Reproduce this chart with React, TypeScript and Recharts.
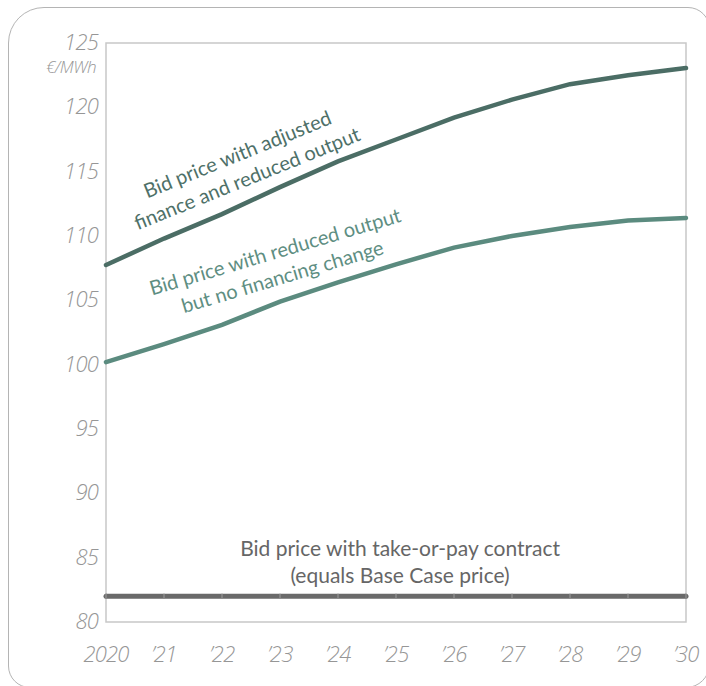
import React from 'react';
import { LineChart, Line, XAxis, YAxis, ReferenceArea, ReferenceDot } from 'recharts';

const years = [2020, 2021, 2022, 2023, 2024, 2025, 2026, 2027, 2028, 2029, 2030];
const yearLabels = ['2020', '\u201921', '\u201922', '\u201923', '\u201924', '\u201925', '\u201926', '\u201927', '\u201928', '\u201929', '\u201930'];
const adjustedFinance = [107.75, 109.8, 111.7, 113.8, 115.8, 117.5, 119.2, 120.6, 121.8, 122.5, 123.05];
const reducedOutput = [100.2, 101.6, 103.1, 104.9, 106.4, 107.8, 109.1, 110.0, 110.7, 111.2, 111.4];
const takeOrPay = [82, 82, 82, 82, 82, 82, 82, 82, 82, 82, 82];
const yTicks = [80, 85, 90, 95, 100, 105, 110, 115, 120, 125];

const data = years.map((y, i) => ({
  year: y,
  adjusted: adjustedFinance[i],
  reduced: reducedOutput[i],
  take: takeOrPay[i],
}));

const FONT = 'Lato, "Open Sans", sans-serif';
const TICK_FONT = '"Open Sans", Lato, sans-serif';
const tickTextStyle: React.CSSProperties = {
  fontFamily: TICK_FONT,
  fontStyle: 'italic',
  fontWeight: 300,
  fontSize: 22,
  letterSpacing: -0.8,
  fill: '#969696',
};

const XTick = (props: any) => {
  const { x, y, payload } = props;
  const idx = years.indexOf(payload.value);
  return (
    <text x={x} y={y} dy={20} textAnchor="middle" style={tickTextStyle}>
      {yearLabels[idx]}
    </text>
  );
};

const YTick = (props: any) => {
  const { x, y, payload } = props;
  return (
    <text x={x} y={y} dy={7} textAnchor="end" style={tickTextStyle}>
      {payload.value}
    </text>
  );
};

const makeNote = (lines: string[], color: string, angle: number, gap: number, size: number) => (props: any) => {
  const { cx, cy } = props;
  const n = lines.length;
  return (
    <text
      transform={`rotate(${angle}, ${cx}, ${cy})`}
      x={cx}
      y={cy}
      textAnchor="middle"
      fill={color}
      style={{ fontFamily: FONT, fontSize: size, fontWeight: 400 }}
    >
      {lines.map((l, i) => (
        <tspan key={i} x={cx} y={cy + (i - (n - 1) / 2) * gap + 7}>
          {l}
        </tspan>
      ))}
    </text>
  );
};

const TickDot = (props: any) => {
  const { cx, cy } = props;
  return <line x1={cx} x2={cx} y1={cy - 2.5} y2={cy + 2.5} stroke="#8c8c8c" strokeWidth={1.5} />;
};

export default function App() {
  return (
    <div style={{ position: 'absolute', left: 0, top: 0, width: 706, height: 686, background: '#fff', overflow: 'hidden' }}>
      <div
        style={{
          position: 'absolute',
          left: 8,
          top: 7,
          width: 702,
          height: 681,
          border: '1.5px solid #b4b4b4',
          borderRadius: '36px 22px 24px 22px',
          boxSizing: 'border-box',
        }}
      />
      <div style={{ position: 'absolute', left: 0, top: 0 }}>
        <LineChart width={706} height={686} data={data} margin={{ top: 43, right: 20, left: 0, bottom: 0 }}>
          <XAxis
            dataKey="year"
            type="number"
            domain={[2020, 2030]}
            ticks={years}
            axisLine={false}
            tickLine={false}
            tickSize={0}
            tickMargin={20}
            height={64}
            tick={<XTick />}
            interval={0}
          />
          <YAxis
            type="number"
            domain={[80, 125]}
            ticks={yTicks}
            axisLine={false}
            tickLine={false}
            tickSize={0}
            tickMargin={8}
            width={106}
            tick={<YTick />}
            interval={0}
            label={{
              content: (p: any) => {
                const vb = p.viewBox;
                return (
                  <text
                    x={vb.x + vb.width - 10}
                    y={vb.y + 30}
                    textAnchor="end"
                    style={{ fontFamily: TICK_FONT, fontStyle: 'italic', fontWeight: 300, fontSize: 17, letterSpacing: -0.5, fill: '#969696' }}
                  >
                    €/MWh
                  </text>
                );
              },
            }}
          />
          <ReferenceArea x1={2020} x2={2030} y1={80} y2={125} fill="none" stroke="#c8c8c8" strokeWidth={1.5} ifOverflow="visible" />
          <Line
            dataKey="take"
            type="linear"
            stroke="#6a6a6a"
            strokeWidth={5}
            strokeLinecap="round"
            dot={<TickDot />}
            isAnimationActive={false}
          />
          <Line
            dataKey="reduced"
            type="linear"
            stroke="#5b8b7f"
            strokeWidth={4.5}
            strokeLinecap="round"
            dot={false}
            isAnimationActive={false}
          />
          <Line
            dataKey="adjusted"
            type="linear"
            stroke="#4b6d65"
            strokeWidth={4.5}
            strokeLinecap="round"
            dot={false}
            isAnimationActive={false}
          />
          <ReferenceDot
            x={2022.35}
            y={115.4}
            r={0}
            ifOverflow="visible"
            shape={makeNote(['Bid price with adjusted', 'finance and reduced output'], '#4e7068', -22, 26, 20)}
          />
          <ReferenceDot
            x={2022.98}
            y={107.8}
            r={0}
            ifOverflow="visible"
            shape={makeNote(['Bid price with reduced output', 'but no financing change'], '#5e8e82', -16.5, 26, 20)}
          />
          <ReferenceDot
            x={2025.07}
            y={84.6}
            r={0}
            ifOverflow="visible"
            shape={makeNote(['Bid price with take-or-pay contract', '(equals Base Case price)'], '#666666', 0, 27, 21)}
          />
        </LineChart>
      </div>
    </div>
  );
}
